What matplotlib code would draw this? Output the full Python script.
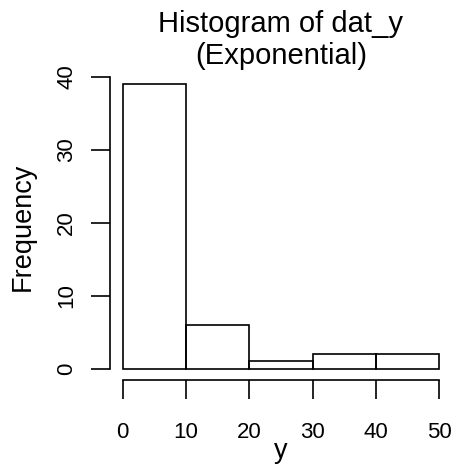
import numpy as np
import matplotlib
matplotlib.use("Agg")
import matplotlib.pyplot as plt

plt.rcParams["font.family"] = ["Liberation Sans", "DejaVu Sans"]

# histogram bins and counts
bin_edges = [0, 10, 20, 30, 40, 50]
counts = [39, 6, 1, 2, 2]
x_ticks = [0, 10, 20, 30, 40, 50]
y_ticks = [0, 10, 20, 30, 40]

W, H = 452, 466
fig = plt.figure(figsize=(W / 100, H / 100), dpi=100)
ax = fig.add_axes([110 / W, 86 / H, 342 / W, 307 / H])

widths = np.diff(bin_edges)
ax.bar(bin_edges[:-1], counts, width=widths, align="edge",
       fill=False, edgecolor="black", linewidth=1.2)

ax.set_xlim(-2, 52)
ax.set_ylim(-1.56, 40.56)

for side in ["top", "right"]:
    ax.spines[side].set_visible(False)
ax.spines["left"].set_bounds(0, 40)
ax.spines["bottom"].set_bounds(0, 50)
ax.spines["left"].set_linewidth(1.2)
ax.spines["bottom"].set_linewidth(1.2)

ax.set_xticks(x_ticks)
ax.set_yticks(y_ticks)
ax.set_yticklabels([str(v) for v in y_ticks], rotation=90, va="center")
ax.tick_params(axis="both", length=14, width=1.2, labelsize=16)
ax.tick_params(axis="x", pad=16)
ax.tick_params(axis="y", pad=9.5)

ax.set_xlabel("y", fontsize=19.5, va="baseline")
ax.xaxis.set_label_coords(0.5, (380 - 458) / 307)

fig.text(23 / W, 1 - 226.5 / H, "Frequency", rotation=90,
         ha="center", va="center", fontsize=19.5)

fig.text(281 / W, 1 - 32 / H, "Histogram of dat_y", ha="center", va="baseline", fontsize=21)
fig.text(281 / W, 1 - 64 / H, "(Exponential)", ha="center", va="baseline", fontsize=21)

fig.savefig("out.png", dpi=100)
